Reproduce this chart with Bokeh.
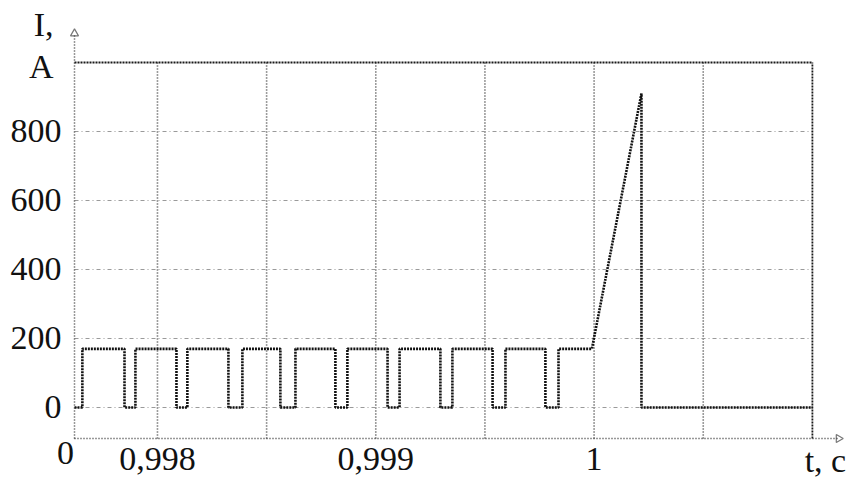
import numpy as np
from bokeh.plotting import figure
from bokeh.models import FixedTicker, Label
from bokeh.embed import file_html
from bokeh.resources import INLINE

# ---- data ----
t_start = 0.99762          # left end of the time axis (labelled "0")
t_end = 1.001              # right border of the grid
rise_t = [0.997656, 0.997899, 0.998137, 0.998389, 0.998632,
          0.998870, 0.999109, 0.999351, 0.999594, 0.999837]
fall_t = [0.997849, 0.998087, 0.998325, 0.998563, 0.998815,
          0.999054, 0.999296, 0.999535, 0.999777]
i_low = 0
i_high = 170
ramp_start_t = 0.99999
peak_t = 1.000217
peak_i = 910

x_ticks = [0.998, 0.999, 1.0]
x_tick_labels = ["0,998", "0,999", "1"]
x_grid = [0.998, 0.9985, 0.999, 0.9995, 1.0, 1.0005]
y_ticks = [0, 200, 400, 600, 800]
y_top = 1000
y_axis_pos = -90

# ---- build the current waveform from the edges ----
ts = [t_start]
cs = [i_low]
for k, r in enumerate(rise_t):
    ts += [r, r]
    cs += [i_low, i_high]
    if k < len(fall_t):
        f = fall_t[k]
        ts += [f, f]
        cs += [i_high, i_low]
ts += [ramp_start_t, peak_t, peak_t, t_end]
cs += [i_high, peak_i, i_low, i_low]

X_LEFT = 0.997281
X_RIGHT = 1.0011837
Y_BOTTOM = -208.7
Y_TOP = 1179.7
FONT = "Liberation Serif"
FS = "34px"

p = figure(width=852, height=479, x_range=(X_LEFT, X_RIGHT), y_range=(Y_BOTTOM, Y_TOP),
           output_backend="svg", toolbar_location=None,
           min_border_left=0, min_border_right=0, min_border_top=0, min_border_bottom=0)
p.outline_line_color = None
p.grid.visible = False
p.background_fill_color = "white"

# grid
p.segment(x0=x_grid, y0=[y_axis_pos] * len(x_grid), x1=x_grid, y1=[y_top] * len(x_grid),
          line_color="#3a3a3a", line_width=1.6, line_dash="1 2")
p.segment(x0=[t_start] * len(y_ticks), y0=y_ticks, x1=[t_end] * len(y_ticks), y1=y_ticks,
          line_color="#9a9a9a", line_width=1.2, line_dash="4 3 1 3")
# border top / right
p.segment(x0=[t_start, t_end], y0=[y_top, y_axis_pos], x1=[t_end, t_end], y1=[y_top, y_top],
          line_color="#1a1a1a", line_width=1.8, line_dash="2 1")

# signal
p.line(ts, cs, line_color="#111111", line_width=2.6, line_dash="2 1")

# axes
xa = p.xaxis[0]
xa.fixed_location = y_axis_pos
xa.bounds = (t_start, 1.00112)
xa.ticker = FixedTicker(ticks=x_ticks)
xa.major_label_overrides = {t: l for t, l in zip(x_ticks, x_tick_labels)}
ya = p.yaxis[0]
ya.fixed_location = t_start
ya.bounds = (y_axis_pos, 1084)
ya.ticker = FixedTicker(ticks=y_ticks)
for ax in (xa, ya):
    ax.axis_line_color = "#333333"
    ax.axis_line_width = 1.5
    ax.axis_line_dash = "1 2"
    ax.major_tick_line_color = None
    ax.minor_tick_line_color = None
    ax.major_label_text_font = FONT
    ax.major_label_text_font_size = FS
    ax.major_label_text_color = "#111111"
xa.major_label_standoff = 3
ya.major_label_standoff = 7

# arrowheads
p.scatter([t_start], [1084], marker="triangle", size=8, fill_color=None,
          line_color="#777777", line_width=1.2)
p.scatter([1.00112], [y_axis_pos], marker="triangle", size=8, angle=-np.pi / 2,
          fill_color=None, line_color="#777777", line_width=1.2)

# extra axis texts
common = dict(text_font=FONT, text_font_size=FS, text_color="#111111")
p.add_layout(Label(x=t_start, y=1110, x_offset=-21, text="I,", text_align="right",
                   text_baseline="alphabetic", **common))
p.add_layout(Label(x=t_start, y=y_top, x_offset=-21, y_offset=-4, text="A", text_align="right",
                   text_baseline="middle", **common))
p.add_layout(Label(x=t_start, y=y_axis_pos, x_offset=-9, y_offset=-3, text="0", text_align="center",
                   text_baseline="top", **common))
p.add_layout(Label(x=t_end, y=y_axis_pos, x_offset=13, y_offset=-3, text="t, c", text_align="center",
                   text_baseline="top", **common))

open("out.html", "w").write(file_html(p, INLINE))
